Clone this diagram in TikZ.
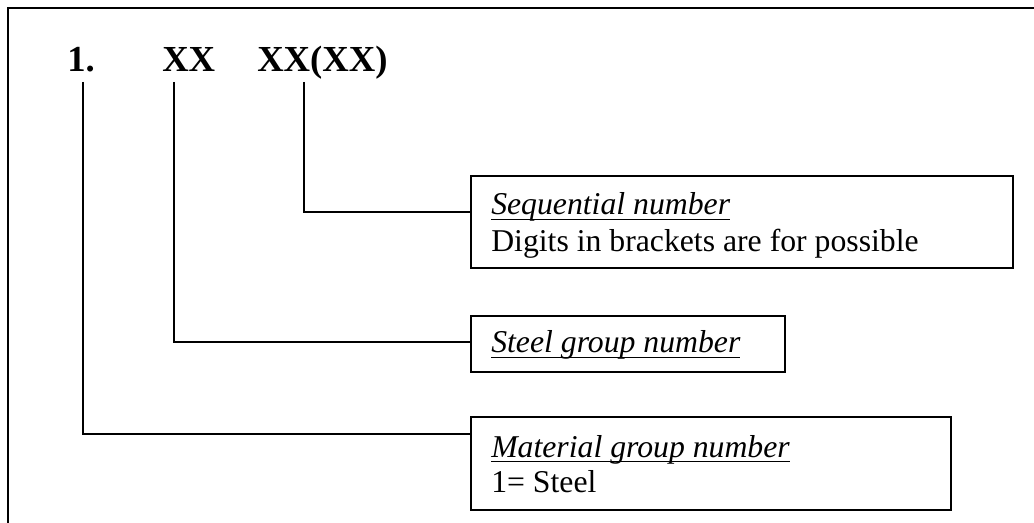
\documentclass[tikz,border=0pt]{standalone}
\usepackage{fontspec}
\setmainfont{Liberation Serif}
\usetikzlibrary{positioning}

% italic heading with a Word-style underline close to the baseline
\newcommand{\headtext}[1]{\setbox0\hbox{\itshape #1}\rlap{\rule[-4pt]{\wd0}{1.2pt}}\box0}

\begin{document}
\begin{tikzpicture}[
    x=0.75pt, y=-0.75pt,
    box/.style={rectangle, draw, line width=1.3pt, anchor=north west, inner sep=0pt},
    code/.style={anchor=base west, inner sep=0pt, font=\fontsize{27.5}{30}\selectfont\bfseries},
    lbl/.style={anchor=base west, inner sep=0pt, font=\fontsize{23.8}{28}\selectfont},
    link/.style={line width=1pt}
]

% Page frame, running off at the right and bottom
\clip (0,0) rectangle (1034,523);
\draw[line width=1.5pt] (8,540) -- (8,8) -- (1045,8);

% Code parts
\node[code] (mat) at (67,72) {1.};
\node[code] (grp) at (162,72) {XX};
\node[code] (seq) at (257,72) {XX(XX)};

% Boxes
\node[box, minimum width=406.5pt, minimum height=69pt] (seqbox) at (470,175) {};
\node[box, minimum width=235.5pt, minimum height=42pt] (grpbox) at (470,315) {};
\node[box, minimum width=360pt, minimum height=69.75pt] (matbox) at (470,416) {};

% Box texts
\node[lbl] (seqhead) at (491,215) {\headtext{Sequential number}};
\node[lbl] (seqtext) at (491,252) {Digits in brackets are for possible};
\node[lbl] (grphead) at (491,353) {\headtext{Steel group number}};
\node[lbl] (mathead) at (491,457) {\headtext{Material group number}};
\node[lbl] (mattext) at (491,492) {1= Steel};

% Connectors
\coordinate (mattop) at (83,82);
\coordinate (grptop) at (174,82);
\coordinate (seqtop) at (304,82);
\draw[link] (seqtop) |- ([yshift=-27.75pt]seqbox.north west);
\draw[link] (grptop) |- ([yshift=-20.25pt]grpbox.north west);
\draw[link] (mattop) |- ([yshift=-13.5pt]matbox.north west);

\end{tikzpicture}
\end{document}
